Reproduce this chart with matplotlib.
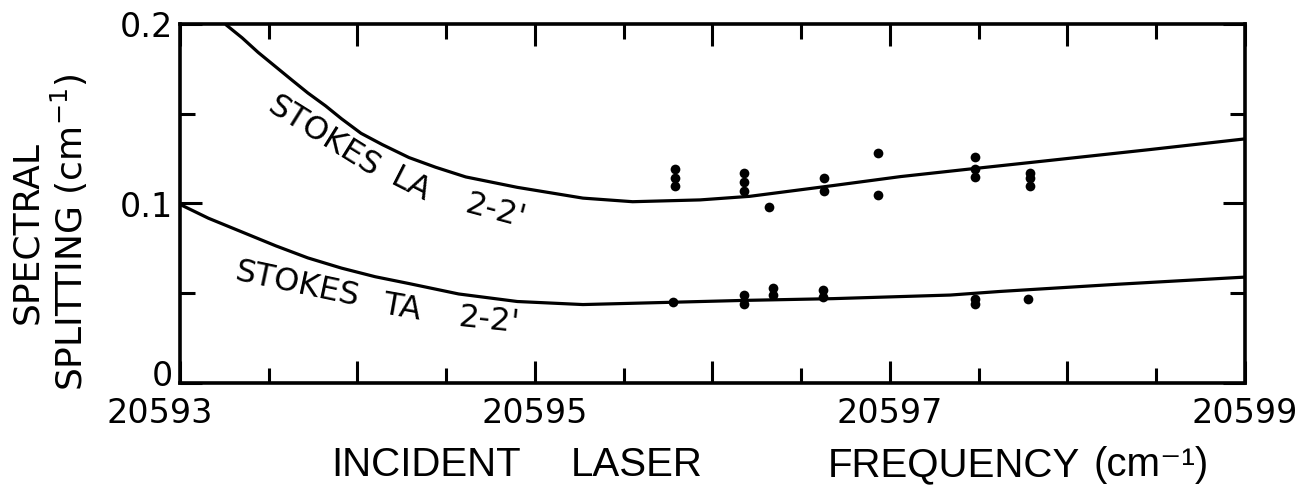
"""Spectral splitting vs incident laser frequency (Stokes LA / TA 2-2')."""

import matplotlib
matplotlib.use("Agg")
import matplotlib.pyplot as plt
from matplotlib.transforms import ScaledTranslation

# fitted curves
la_x = [20593.26, 20593.35, 20593.44, 20593.54, 20593.63, 20593.72, 20593.82,
        20593.91, 20594.02, 20594.14, 20594.29, 20594.44, 20594.61, 20594.90,
        20595.27, 20595.55, 20595.93, 20596.21, 20596.68, 20597.06, 20597.43,
        20597.90, 20598.46, 20599.0]
la_y = [0.1995, 0.1923, 0.1842, 0.1761, 0.1688, 0.1616, 0.1544,
        0.1472, 0.1391, 0.1328, 0.1256, 0.1202, 0.1148, 0.109,
        0.103, 0.101, 0.102, 0.104, 0.110, 0.115, 0.119,
        0.124, 0.130, 0.136]

ta_x = [20593.0, 20593.16, 20593.35, 20593.54, 20593.72, 20593.91, 20594.10,
        20594.29, 20594.57, 20594.90, 20595.27, 20595.78, 20596.17, 20596.68,
        20597.34, 20597.62, 20598.28, 20599.0]
ta_y = [0.0995, 0.0918, 0.0841, 0.0764, 0.0697, 0.0640, 0.0592,
        0.0554, 0.0496, 0.0454, 0.0437, 0.0450, 0.046, 0.047,
        0.049, 0.051, 0.055, 0.059]

# measured points
la_pts_x = [20595.79, 20595.79, 20595.79, 20596.18, 20596.18, 20596.18, 20596.32,
            20596.63, 20596.63, 20596.93, 20596.93, 20597.48, 20597.48, 20597.48,
            20597.79, 20597.79, 20597.79]
la_pts_y = [0.119, 0.114, 0.110, 0.117, 0.112, 0.107, 0.098,
            0.114, 0.107, 0.128, 0.105, 0.126, 0.119, 0.115,
            0.117, 0.114, 0.110]

ta_pts_x = [20595.78, 20596.18, 20596.18, 20596.34, 20596.34, 20596.62, 20596.62,
            20597.48, 20597.48, 20597.78]
ta_pts_y = [0.0454, 0.049, 0.044, 0.053, 0.049, 0.052, 0.048,
            0.047, 0.044, 0.0466]

x_major = [20593, 20594, 20595, 20596, 20597, 20598, 20599]
x_labels = ["20593", "", "20595", "", "20597", "", "20599"]
x_minor = [20593.5, 20594.5, 20595.5, 20596.5, 20597.5, 20598.5]
y_major = [0, 0.1, 0.2]
y_labels = ["0", "0.1", "0.2"]
y_minor = [0.05, 0.15]

fig = plt.figure(figsize=(13.02, 4.94), dpi=100)
ax = fig.add_axes([180 / 1302, 1 - 383 / 494, 1065 / 1302, 359 / 494])

ax.plot(la_x, la_y, color="black", lw=2.3, solid_capstyle="round",
        solid_joinstyle="round")
ax.plot(ta_x, ta_y, color="black", lw=2.3, solid_capstyle="round",
        solid_joinstyle="round")
ax.plot(la_pts_x, la_pts_y, "o", color="black", ms=7, mew=0)
ax.plot(ta_pts_x, ta_pts_y, "o", color="black", ms=7, mew=0)

ax.set_xlim(20593, 20599)
ax.set_ylim(0, 0.2)
ax.set_xticks(x_major)
ax.set_xticklabels(x_labels)
ax.set_xticks(x_minor, minor=True)
ax.set_yticks(y_major)
ax.set_yticklabels(y_labels)
ax.set_yticks(y_minor, minor=True)

for s in ax.spines.values():
    s.set_linewidth(2.6)
ax.tick_params(which="both", direction="in", top=True, right=True,
               width=2.2, labelsize=24, color="black")
ax.tick_params(which="major", length=16)
ax.tick_params(which="minor", length=11)
ax.tick_params(axis="x", pad=10)
ax.tick_params(axis="y", pad=5)

# first x label sits left of its tick, "0" sits a bit high, as in the original
lab0 = ax.xaxis.get_major_ticks()[0].label1
lab0.set_transform(lab0.get_transform()
                   + ScaledTranslation(-0.2, 0, fig.dpi_scale_trans))
laby0 = ax.yaxis.get_major_ticks()[0].label1
laby0.set_transform(laby0.get_transform()
                    + ScaledTranslation(0, 0.1, fig.dpi_scale_trans))

# curve labels
lbl = dict(fontsize=23, ha="center", va="center", rotation_mode="anchor")
ax.text(20593.81, 0.137, "STOKES", rotation=-32, **lbl)
ax.text(20594.30, 0.110, "LA", rotation=-27, **lbl)
ax.text(20594.78, 0.0955, "2-2'", rotation=-15, **lbl)
ax.text(20593.66, 0.0546, "STOKES", rotation=-12, **lbl)
ax.text(20594.25, 0.042, "TA", rotation=-10, **lbl)
ax.text(20594.74, 0.0345, "2-2'", rotation=-6, **lbl)

fig.text(50 / 1302, 1 - 232 / 494, "SPECTRAL\nSPLITTING (cm$^{-1}$)",
         rotation=90, ha="center", va="center", multialignment="center",
         fontsize=26, linespacing=1.15)

xl = dict(va="center", fontsize=29, family=["Liberation Sans", "DejaVu Sans"])
fig.text(426 / 1302, 1 - 465 / 494, "INCIDENT", ha="center", **xl)
fig.text(637 / 1302, 1 - 465 / 494, "LASER", ha="center", **xl)
fig.text(1080 / 1302, 1 - 465 / 494, "FREQUENCY", ha="right", **xl)
fig.text(1094 / 1302, 1 - 465 / 494, "(cm\u207b\u00b9)", ha="left", **xl)

fig.savefig("out.png", dpi=100)
